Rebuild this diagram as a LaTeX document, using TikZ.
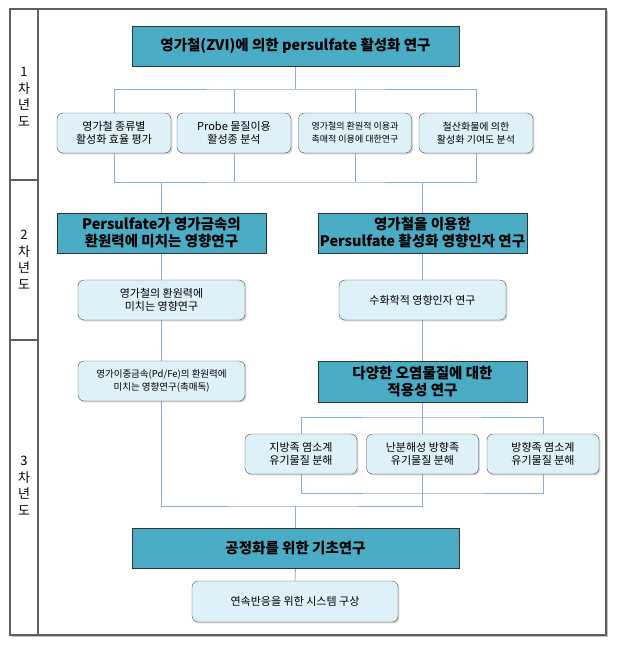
\documentclass[tikz,border=0pt]{standalone}
\usepackage{fontspec}
\setmainfont{Noto Sans CJK KR}
\definecolor{headblue}{RGB}{75,172,198}
\definecolor{taskblue}{RGB}{222,240,248}
\definecolor{linkblue}{RGB}{140,172,208}
\definecolor{framegray}{RGB}{95,95,95}
\usetikzlibrary{shadows,backgrounds}
\tikzset{%
  box/.style={draw, align=center, inner sep=1pt, minimum height=40pt,
    drop shadow={opacity=0.35, shadow xshift=1.4pt, shadow yshift=-1.4pt}},
  head/.style={box, draw=black!80, fill=headblue, font=\fontsize{14.5}{17}\selectfont\bfseries},% main research block
  task/.style={box, draw=black!70, fill=taskblue, rounded corners=6pt, font=\fontsize{11}{13.5}\selectfont},% sub task
  tiny/.style={font=\fontsize{9}{13}\selectfont},% condensed sub task text
  link/.style={draw=linkblue, line width=0.8pt},% connector line
  year/.style={align=center, font=\fontsize{13}{16.5}\selectfont}% year label in left column
}
\begin{document}
\begin{tikzpicture}[x=1pt, y=-1pt]
  \useasboundingbox (0,0) rectangle (617,648);
  % frame and year column
  \draw[black!25, line width=1.5pt] (11.5,636.5) -- (607.5,636.5) -- (607.5,10.5);
  \draw[framegray, line width=1.2pt] (10,9) rectangle (606,635);
  \draw[framegray, line width=1.2pt] (38,9) -- (38,635);
  \draw[framegray, line width=1.2pt] (10,180) -- (38,180);
  \draw[framegray, line width=1.2pt] (10,340) -- (38,340);
  \node[year] (y1) at (24,97) {1\\차\\년\\도};
  \node[year] (y2) at (24,260) {2\\차\\년\\도};
  \node[year] (y3) at (24,486) {3\\차\\년\\도};

  % 1st year
  \node[head, minimum width=327pt] (t1) at (295.5,46) {영가철(ZVI)에 의한 persulfate 활성화 연구};
  \node[task, minimum width=114pt] (a1) at (114,133) {영가철 종류별\\활성화 효율 평가};
  \node[task, minimum width=114pt] (a2) at (234,133) {Probe 물질이용\\활성종 분석};
  \node[task, tiny, minimum width=113pt] (a3) at (355,133) {영가철의 환원적 이용과\\촉매적 이용에 대한연구};
  \node[task, tiny, font=\fontsize{10}{13}\selectfont, minimum width=114pt] (a4) at (476,133) {철산화물에 의한\\활성화 기여도 분석};

  % 2nd year
  \node[head, minimum width=209pt] (h2l) at (161.5,233) {Persulfate가 영가금속의\\환원력에 미치는 영향연구};
  \node[head, minimum width=209pt] (h2r) at (422.5,233) {영가철을 이용한\\Persulfate 활성화 영향인자 연구};
  \node[task, minimum width=167pt] (s2l) at (161.5,300) {영가철의 환원력에\\미치는 영향연구};
  \node[task, minimum width=167pt] (s2r) at (422.5,300) {수화학적 영향인자 연구};

  % 3rd year
  \node[task, tiny, font=\fontsize{9.5}{13}\selectfont, minimum width=167pt] (s3l) at (161.5,381) {영가이중금속(Pd/Fe)의 환원력에\\미치는 영향연구(촉매독)};
  \node[head, minimum width=209pt, minimum height=41pt] (h3r) at (422.5,381.5) {다양한 오염물질에 대한\\적용성 연구};
  \node[task, minimum width=112pt] (b1) at (301,454) {지방족 염소계\\유기물질 분해};
  \node[task, minimum width=112pt] (b2) at (422.5,454) {난분해성 방향족\\유기물질 분해};
  \node[task, minimum width=112pt] (b3) at (543,454) {방향족 염소계\\유기물질 분해};
  \node[head, minimum width=327pt] (h4) at (295.5,548) {공정화를 위한 기초연구};
  \node[task, minimum width=206pt, minimum height=41pt] (s4) at (295,601.5) {연속반응을 위한 시스템 구상};

  \begin{scope}[on background layer]
    \coordinate (j1) at (295.5,89);
    \coordinate (j2) at (295.5,182);
    \coordinate (j3) at (422.5,417);
    \coordinate (j4) at (422.5,493);
    \coordinate (j5) at (295.5,506);
    \draw[link] (t1.south) -- (j1);
    \draw[link] (a1.north) |- (j1) -| (a4.north);
    \draw[link] (a2.north) -- (a2.north |- j1);
    \draw[link] (a3.north) -- (a3.north |- j1);
    \draw[link] (a1.south) |- (j2) -| (a4.south);
    \draw[link] (a2.south) -- (a2.south |- j2);
    \draw[link] (a3.south) -- (a3.south |- j2);
    \draw[link] (h2l.north) -- (h2l.north |- j2);
    \draw[link] (h2r.north) -- (h2r.north |- j2);
    \draw[link] (h2l.south) -- (s2l.north);
    \draw[link] (s2l.south) -- (s3l.north);
    \draw[link] (h2r.south) -- (s2r.north);
    \draw[link] (s2r.south) -- (h3r.north);
    \draw[link] (b1.north) |- (j3) -| (b3.north);
    \draw[link] (b1.south) |- (j4) -| (b3.south);
    \draw[link] (s3l.south) |- (j5) -| (h3r.south);
    \draw[link] (j5) -- (h4.north);
    \draw[link] (h4.south) -- (s4.north);
  \end{scope}
\end{tikzpicture}
\end{document}
